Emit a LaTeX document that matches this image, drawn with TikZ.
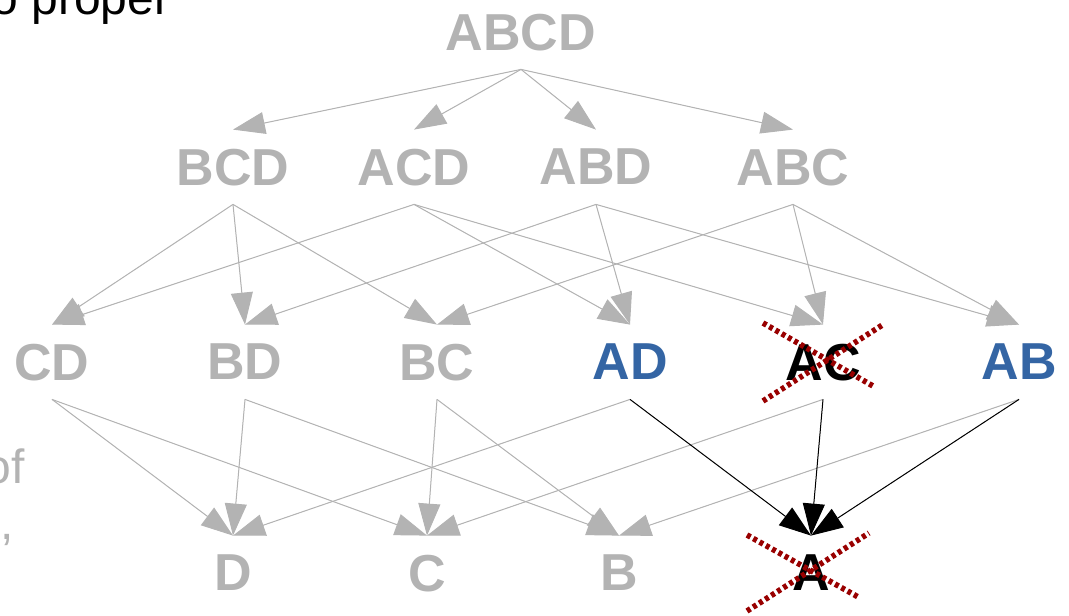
\documentclass[tikz,border=0pt]{standalone}
\usepackage{fontspec}
\setmainfont{Liberation Sans}
\usetikzlibrary{arrows.meta,calc,positioning}

\definecolor{lattgray}{HTML}{B3B3B3}
\definecolor{keptblue}{HTML}{3465A4}
\definecolor{cutred}{HTML}{990000}

\tikzset{
  set/.style={font=\fontsize{26}{30}\selectfont\bfseries, text=lattgray,
    inner sep=0pt, text depth=0pt, minimum height=37pt},
  sub/.style={draw=lattgray, fill=lattgray, line width=0.5pt,
    -{Triangle[length=16pt,width=11pt]}},
  kept/.style={sub, draw=black, fill=black},
  cut/.style={draw=cutred, line width=2.8pt, dash pattern=on 2pt off 1.6pt},
  slide/.style={font=\fontsize{24}{28}\selectfont, inner sep=0pt}
}

\begin{document}
\begin{tikzpicture}[x=0.5pt, y=-0.5pt]

\useasboundingbox (0,0) rectangle (1069,615);
\clip (0,0) rectangle (1069,615);

% bits of the surrounding slide text
\node[slide, anchor=base west] (slidetop) at (-9,15) {o proper};
\node[slide, anchor=base east, text=lattgray] (slideof) at (25,483) {of};
\node[slide, anchor=base east, text=lattgray] (slidecomma) at (14,539) {,};

% the lattice, one row per size
\node[set] (ABCD) at (521,32) {ABCD};

\node[set] (BCD) at (233,167) {BCD};
\node[set] (ACD) at (414,167) {ACD};
\node[set] (ABD) at (596,167) {ABD};
\node[set] (ABC) at (793,167) {ABC};

\node[set] (CD) at (52,362) {CD};
\node[set] (BD) at (245,362) {BD};
\node[set] (BC) at (437,362) {BC};
\node[set, text=keptblue] (AD) at (630,362) {AD};
\node[set, text=black] (AC) at (823,362) {AC};
\node[set, text=keptblue] (AB) at (1019,362) {AB};

\node[set] (D) at (233,573) {D};
\node[set] (C) at (427,573) {C};
\node[set] (B) at (619,573) {B};
\node[set, text=black] (A) at (811,573) {A};

% drop one letter
\foreach \a/\b in {ABCD/BCD, ABCD/ACD, ABCD/ABD, ABCD/ABC,
                   BCD/CD, BCD/BD, BCD/BC,
                   ACD/CD, ACD/AD, ACD/AC,
                   ABD/BD, ABD/AD, ABD/AB,
                   ABC/BC, ABC/AC, ABC/AB,
                   CD/D, CD/C, BD/D, BD/B, BC/C, BC/B,
                   AD/D, AC/C, AB/B}
  \draw[sub] (\a.south) -- (\b.north);

\foreach \a in {AD, AC, AB}
  \draw[kept] (\a.south) -- (A.north);

% crossed out
\draw[cut] ($(AC) + (-60,-39)$) -- ($(AC) + (50,24)$);
\draw[cut] ($(AC) + (-60,39)$) -- ($(AC) + (61,-38)$);

\draw[cut] ($(A) + (-64,-38)$) -- ($(A) + (49,25)$);
\draw[cut] ($(A) + (-64,38)$) -- ($(A) + (58,-40)$);

\end{tikzpicture}
\end{document}
